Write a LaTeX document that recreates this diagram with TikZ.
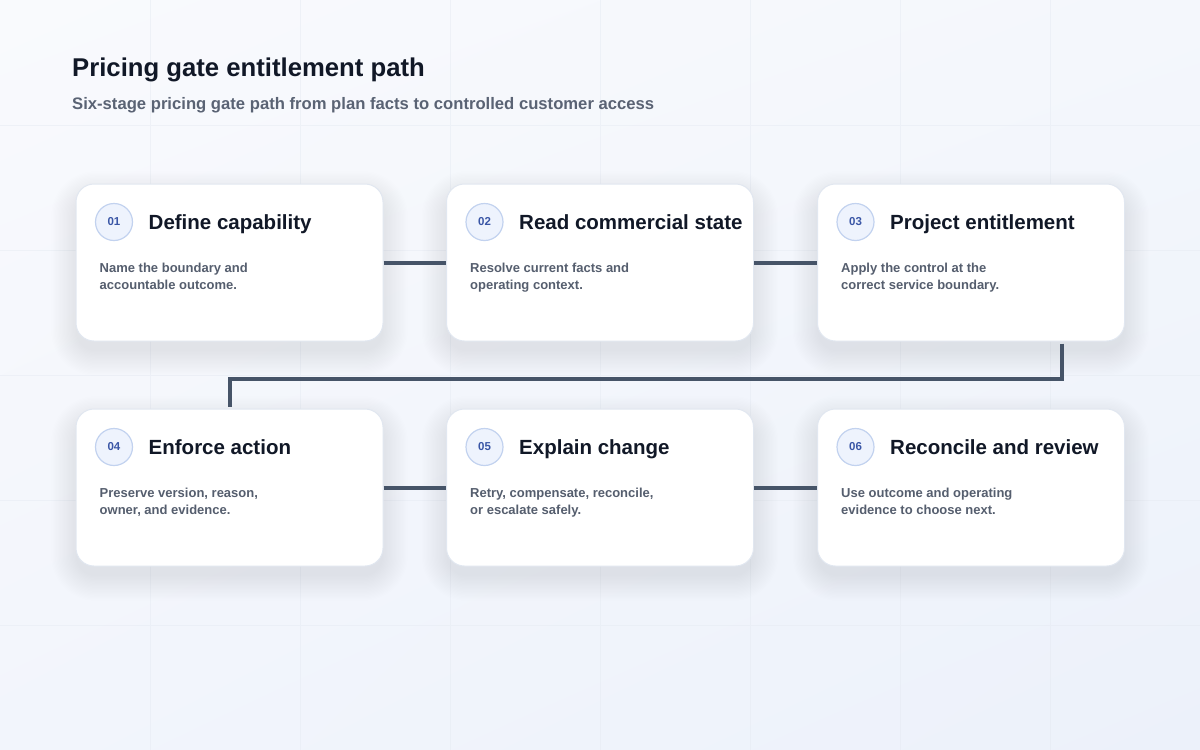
\documentclass[tikz,border=0pt]{standalone}
\usepackage{fontspec}
\setmainfont{Liberation Sans}
\usetikzlibrary{positioning,shadings}

\newlength{\du}
\setlength{\du}{1pt}

\definecolor{bgtl}{HTML}{F9FAFD}
\definecolor{bgtr}{HTML}{F4F7FC}
\definecolor{bgbl}{HTML}{F2F5FC}
\definecolor{bgbr}{HTML}{ECF1FA}
\definecolor{gridline}{HTML}{E4E9F1}
\definecolor{headcolor}{HTML}{111827}
\definecolor{subcolor}{HTML}{5A6374}
\definecolor{desccolor}{HTML}{555E6E}
\definecolor{cardline}{HTML}{E1E7F0}
\definecolor{shadowcolor}{HTML}{7F8BA6}
\definecolor{badgefill}{HTML}{EEF3FD}
\definecolor{badgeline}{HTML}{C2D2EF}
\definecolor{badgetext}{HTML}{3A56A6}
\definecolor{linkcolor}{HTML}{465468}

\tikzset{
  card/.style={draw=cardline, line width=1\du, fill=white, rounded corners=18\du,
    minimum width=307\du, minimum height=157\du, inner sep=0pt},
  badge/.style={circle, draw=badgeline, line width=1.2\du, fill=badgefill,
    minimum size=37\du, inner sep=0pt, text=badgetext,
    font=\fontsize{11.5}{13}\selectfont\bfseries},
  cardtitle/.style={anchor=base west, inner sep=0pt, text=headcolor,
    font=\fontsize{20.5}{24}\selectfont\bfseries},
  carddesc/.style={anchor=base west, inner sep=0pt, text=desccolor, align=left,
    font=\fontsize{13}{17}\selectfont\bfseries},
  link/.style={draw=linkcolor, line width=4\du, line join=miter}
}

% soft shadow under a card centred at (#1,#2)
\newcommand{\cardshadow}[2]{%
  \foreach \k in {1,...,20}{%
    \pgfmathsetmacro{\rr}{18+1.3*\k}%
    \fill[shadowcolor, opacity=0.009, rounded corners=\rr\du]
      (#1-152-1.3*\k, #2-76-1.3*\k+11) rectangle (#1+152+1.3*\k, #2+76+1.3*\k+11);
  }%
}

\begin{document}
\begin{tikzpicture}[x=1\du, y=-1\du]
\useasboundingbox (0,0) rectangle (1200,750);

% background
\shade[upper left=bgtl, upper right=bgtr, lower left=bgbl, lower right=bgbr]
  (0,0) rectangle (1200,750);
\draw[gridline, line width=1\du, opacity=0.45]
  (150,0) -- (150,750) (300,0) -- (300,750) (450,0) -- (450,750)
  (600,0) -- (600,750) (750,0) -- (750,750) (900,0) -- (900,750)
  (1050,0) -- (1050,750)
  (0,125) -- (1200,125) (0,250) -- (1200,250) (0,375) -- (1200,375)
  (0,500) -- (1200,500) (0,625) -- (1200,625);

% heading
\node[anchor=base west, inner sep=0pt, text=headcolor,
  font=\fontsize{25.7}{30}\selectfont\bfseries] (heading) at (72,76)
  {Pricing gate entitlement path};
\node[anchor=base west, inner sep=0pt, text=subcolor,
  font=\fontsize{16.65}{19}\selectfont\bfseries] (subheading) at (72,109.5)
  {Six-stage pricing gate path from plan facts to controlled customer access};

% shadows
\cardshadow{229.5}{262.5}
\cardshadow{600}{262.5}
\cardshadow{971}{262.5}
\cardshadow{229.5}{487.5}
\cardshadow{600}{487.5}
\cardshadow{971}{487.5}

% stage 01
\node[card] (c1) at (229.5,262.5) {};
\node[badge] (b1) at ([xshift=38.5\du,yshift=-38.5\du]c1.north west) {01};
\node[cardtitle] (t1) at ([xshift=73\du,yshift=-45.5\du]c1.north west) {Define capability};
\node[carddesc] (d1) at ([xshift=24\du,yshift=-105.6\du]c1.north west)
  {Name the boundary and\\accountable outcome.};

% stage 02
\node[card] (c2) at (600,262.5) {};
\node[badge] (b2) at ([xshift=38.5\du,yshift=-38.5\du]c2.north west) {02};
\node[cardtitle] (t2) at ([xshift=73\du,yshift=-45.5\du]c2.north west) {Read commercial state};
\node[carddesc] (d2) at ([xshift=24\du,yshift=-105.6\du]c2.north west)
  {Resolve current facts and\\operating context.};

% stage 03
\node[card] (c3) at (971,262.5) {};
\node[badge] (b3) at ([xshift=38.5\du,yshift=-38.5\du]c3.north west) {03};
\node[cardtitle] (t3) at ([xshift=73\du,yshift=-45.5\du]c3.north west) {Project entitlement};
\node[carddesc] (d3) at ([xshift=24\du,yshift=-105.6\du]c3.north west)
  {Apply the control at the\\correct service boundary.};

% stage 04
\node[card] (c4) at (229.5,487.5) {};
\node[badge] (b4) at ([xshift=38.5\du,yshift=-38.5\du]c4.north west) {04};
\node[cardtitle] (t4) at ([xshift=73\du,yshift=-45.5\du]c4.north west) {Enforce action};
\node[carddesc] (d4) at ([xshift=24\du,yshift=-105.6\du]c4.north west)
  {Preserve version, reason,\\owner, and evidence.};

% stage 05
\node[card] (c5) at (600,487.5) {};
\node[badge] (b5) at ([xshift=38.5\du,yshift=-38.5\du]c5.north west) {05};
\node[cardtitle] (t5) at ([xshift=73\du,yshift=-45.5\du]c5.north west) {Explain change};
\node[carddesc] (d5) at ([xshift=24\du,yshift=-105.6\du]c5.north west)
  {Retry, compensate, reconcile,\\or escalate safely.};

% stage 06
\node[card] (c6) at (971,487.5) {};
\node[badge] (b6) at ([xshift=38.5\du,yshift=-38.5\du]c6.north west) {06};
\node[cardtitle] (t6) at ([xshift=73\du,yshift=-45.5\du]c6.north west) {Reconcile and review};
\node[carddesc] (d6) at ([xshift=24\du,yshift=-105.6\du]c6.north west)
  {Use outcome and operating\\evidence to choose next.};

% connectors
\coordinate (elbow) at (1062,379);
\draw[link] (c1.east) -- (c2.west);
\draw[link] (c2.east) -- (c3.west);
\draw[link] ([yshift=-2\du]c3.south -| elbow) -- (elbow) -| ([yshift=2\du]c4.north);
\draw[link] (c4.east) -- (c5.west);
\draw[link] (c5.east) -- (c6.west);
\end{tikzpicture}
\end{document}
